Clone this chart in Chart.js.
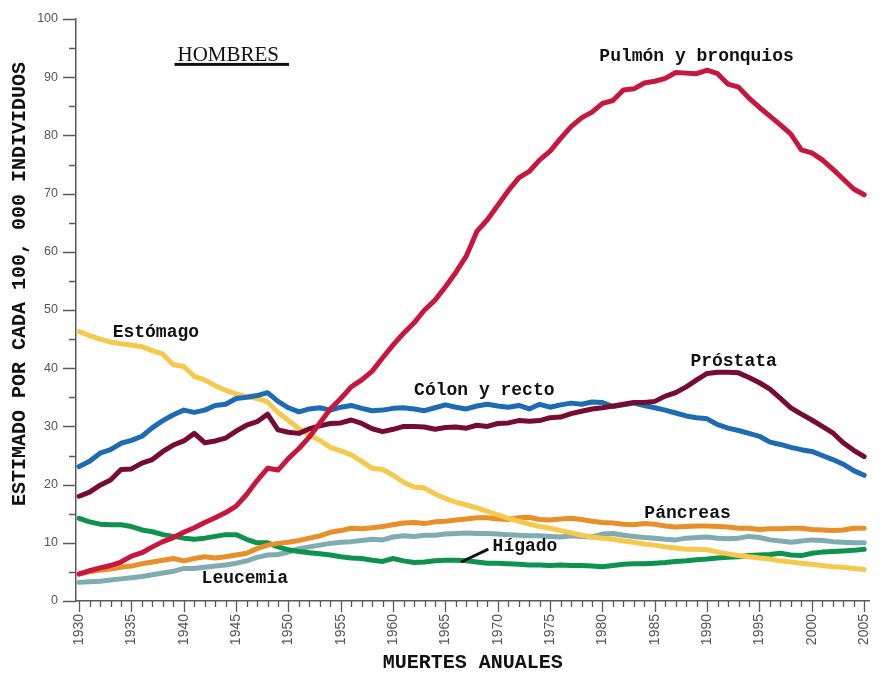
<!DOCTYPE html>
<html>
<head>
<meta charset="utf-8">
<script src="https://cdn.jsdelivr.net/npm/chart.js@4.4.1/dist/chart.umd.min.js"></script>
<style>
  html, body { margin: 0; padding: 0; background: #fff; }
  #chart { display: block; }
</style>
</head>
<body>
<canvas id="chart" width="883" height="677"></canvas>
<script>
// years 1930..2005, one value per year
const years = [];
for (let y = 1930; y <= 2005; y++) years.push(y);

const pulmon = [4.6, 5.2, 5.7, 6.1, 6.7, 7.7, 8.3, 9.3, 10.2, 10.9,
  11.8, 12.6, 13.5, 14.3, 15.2, 16.3, 18.3, 20.7, 22.8, 22.5,
  24.5, 26.2, 28.2, 30.6, 33.0, 34.8, 36.8, 38.0, 39.5, 41.8,
  44.0, 46.0, 47.8, 50.0, 51.7, 54.0, 56.5, 59.3, 63.5, 65.5,
  68.0, 70.5, 72.7, 73.8, 75.8, 77.3, 79.5, 81.5, 83.0, 84.0,
  85.5, 86.0, 87.8, 88.0, 89.0, 89.3, 89.8, 90.8, 90.7, 90.6,
  91.2, 90.6, 88.8, 88.3, 86.4, 84.8, 83.3, 81.8, 80.2, 77.5,
  77.0, 75.8, 74.2, 72.5, 70.8, 69.8];

const prostata = [18.0, 18.7, 19.9, 20.8, 22.6, 22.7, 23.7, 24.3, 25.7, 26.8,
  27.5, 28.8, 27.2, 27.5, 28.0, 29.2, 30.2, 30.8, 32.1, 29.4,
  29.0, 28.8, 29.6, 30.1, 30.5, 30.6, 31.1, 30.5, 29.6, 29.1,
  29.5, 30.0, 30.0, 29.9, 29.5, 29.8, 29.9, 29.7, 30.2, 30.0,
  30.5, 30.6, 31.0, 30.9, 31.0, 31.5, 31.6, 32.2, 32.6, 33.0,
  33.2, 33.5, 33.8, 34.1, 34.1, 34.3, 35.2, 35.8, 36.8, 38.0,
  39.1, 39.3, 39.3, 39.2, 38.4, 37.5, 36.4, 34.8, 33.2, 32.1,
  31.1, 30.0, 28.9, 27.2, 25.9, 24.8];

const colon = [23.1, 24.0, 25.4, 26.0, 27.1, 27.6, 28.3, 29.8, 31.0, 32.0,
  32.8, 32.4, 32.8, 33.6, 33.8, 34.8, 35.0, 35.3, 35.8, 34.3,
  33.2, 32.5, 33.0, 33.2, 32.8, 33.3, 33.6, 33.1, 32.7, 32.8,
  33.1, 33.2, 33.0, 32.7, 33.2, 33.7, 33.3, 33.0, 33.5, 33.8,
  33.5, 33.3, 33.6, 33.0, 33.8, 33.3, 33.7, 34.0, 33.8, 34.2,
  34.1, 33.4, 33.7, 34.0, 33.6, 33.2, 32.8, 32.3, 31.8, 31.5,
  31.3, 30.3, 29.7, 29.3, 28.8, 28.3, 27.3, 26.9, 26.4, 26.0,
  25.7, 25.0, 24.3, 23.5, 22.4, 21.6];

const estomago = [46.3, 45.6, 45.0, 44.5, 44.2, 44.0, 43.7, 43.0, 42.4, 40.6,
  40.3, 38.6, 38.0, 37.0, 36.2, 35.6, 35.1, 34.8, 34.2, 32.4,
  31.0, 29.6, 28.5, 27.6, 26.4, 25.8, 25.1, 24.0, 22.8, 22.6,
  21.6, 20.4, 19.6, 19.4, 18.4, 17.6, 17.0, 16.5, 16.0, 15.4,
  14.8, 14.2, 13.7, 13.2, 12.8, 12.5, 12.1, 11.7, 11.3, 11.0,
  10.8, 10.6, 10.3, 10.1, 9.8, 9.6, 9.3, 9.1, 8.9, 8.9,
  8.8, 8.4, 8.1, 7.8, 7.6, 7.4, 7.2, 6.9, 6.7, 6.5,
  6.3, 6.1, 5.9, 5.8, 5.6, 5.4];

const pancreas = [4.7, 5.0, 5.3, 5.5, 5.8, 6.0, 6.4, 6.7, 7.0, 7.3,
  6.9, 7.3, 7.6, 7.4, 7.6, 7.9, 8.2, 9.0, 9.6, 9.9,
  10.1, 10.4, 10.8, 11.2, 11.8, 12.1, 12.5, 12.4, 12.6, 12.8,
  13.1, 13.4, 13.5, 13.3, 13.6, 13.7, 13.9, 14.1, 14.3, 14.3,
  14.1, 14.0, 14.3, 14.4, 14.0, 13.9, 14.1, 14.2, 14.0, 13.7,
  13.5, 13.4, 13.2, 13.1, 13.3, 13.2, 12.9, 12.7, 12.8, 12.9,
  12.9, 12.8, 12.7, 12.5, 12.5, 12.3, 12.4, 12.4, 12.5, 12.5,
  12.3, 12.2, 12.1, 12.2, 12.5, 12.5];

const leucemia = [3.2, 3.3, 3.4, 3.6, 3.8, 4.0, 4.2, 4.5, 4.8, 5.1,
  5.6, 5.6, 5.8, 6.0, 6.2, 6.5, 6.9, 7.5, 7.9, 8.0,
  8.4, 9.0, 9.3, 9.6, 9.9, 10.1, 10.2, 10.4, 10.6, 10.5,
  11.0, 11.2, 11.1, 11.3, 11.3, 11.5, 11.6, 11.7, 11.6, 11.6,
  11.5, 11.4, 11.3, 11.2, 11.2, 11.1, 11.0, 11.2, 11.1, 11.0,
  11.5, 11.6, 11.3, 11.1, 10.9, 10.8, 10.6, 10.5, 10.8, 10.9,
  11.0, 10.8, 10.7, 10.8, 11.1, 10.9, 10.5, 10.3, 10.1, 10.3,
  10.5, 10.4, 10.2, 10.1, 10.0, 10.0];

const higado = [14.2, 13.6, 13.2, 13.1, 13.1, 12.8, 12.2, 11.9, 11.4, 11.1,
  10.8, 10.6, 10.8, 11.1, 11.4, 11.4, 10.6, 10.0, 10.0, 9.3,
  8.8, 8.5, 8.3, 8.1, 7.9, 7.6, 7.4, 7.3, 7.0, 6.8,
  7.3, 6.9, 6.6, 6.7, 6.9, 7.0, 7.0, 6.9, 6.7, 6.5,
  6.5, 6.4, 6.3, 6.2, 6.2, 6.1, 6.2, 6.1, 6.1, 6.0,
  5.9, 6.1, 6.3, 6.4, 6.4, 6.5, 6.6, 6.8, 6.9, 7.1,
  7.2, 7.4, 7.5, 7.6, 7.8, 7.9, 8.0, 8.2, 7.9, 7.8,
  8.2, 8.4, 8.5, 8.6, 8.7, 8.9];

const yTicks = [0, 10, 20, 30, 40, 50, 60, 70, 80, 90, 100];

// text labels next to the lines, anchored in data units [year, value]
const lineLabels = [
  { text: "Pulmón y bronquios", at: [1979.7, 93.5] },
  { text: "Estómago", at: [1933.2, 46.2] },
  { text: "Cólon y recto", at: [1962.0, 36.1] },
  { text: "Próstata", at: [1988.4, 41.1] },
  { text: "Páncreas", at: [1984.0, 15.1] },
  { text: "Hígado", at: [1969.5, 9.3] },
  { text: "Leucemia", at: [1941.7, 3.8] }
];
const higadoPointer = [[1966.5, 6.7], [1969.1, 8.9]];
const panelTitle = { text: "HOMBRES", at: [1939.4, 92.8] };

const yTitle = "ESTIMADO POR CADA 100, 000 INDIVIDUOS";
const xTitle = "MUERTES ANUALES";

function pts(arr) {
  return years.map((y, i) => ({ x: y, y: arr[i] }));
}

function series(label, arr, color) {
  return {
    label: label,
    data: pts(arr),
    borderColor: color,
    backgroundColor: color,
    borderWidth: 5,
    pointRadius: 0,
    tension: 0,
    borderJoinStyle: "round",
    borderCapStyle: "round",
    clip: false
  };
}

const AXIS = "#5a5a5a";
const MONO = "'Liberation Mono', 'Courier New', monospace";

const annotate = {
  id: "annotate",
  afterDraw(chart) {
    const c = chart.ctx;
    const xs = chart.scales.x, ys = chart.scales.y;
    const area = chart.chartArea;

    // tick marks, long ones on the labelled values
    c.save();
    c.strokeStyle = AXIS;
    c.lineWidth = 1.3;
    c.beginPath();
    years.forEach(v => {
      const px = Math.round(xs.getPixelForValue(v)) + 0.5;
      const len = v % 5 === 0 ? 11 : 6;
      c.moveTo(px, area.bottom);
      c.lineTo(px, area.bottom + len);
    });
    for (let v = 0; v <= 100; v += 5) {
      const py = Math.round(ys.getPixelForValue(v)) + 0.5;
      const len = v % 10 === 0 ? 13 : 7;
      c.moveTo(area.left, py);
      c.lineTo(area.left - len, py);
    }
    c.stroke();
    c.restore();

    // labels on the lines
    c.save();
    c.fillStyle = "#111";
    c.font = "bold 18px " + MONO;
    c.textBaseline = "middle";
    c.textAlign = "left";
    lineLabels.forEach(l => {
      c.fillText(l.text, xs.getPixelForValue(l.at[0]), ys.getPixelForValue(l.at[1]));
    });

    c.strokeStyle = "#111";
    c.lineWidth = 3;
    c.beginPath();
    c.moveTo(xs.getPixelForValue(higadoPointer[0][0]), ys.getPixelForValue(higadoPointer[0][1]));
    c.lineTo(xs.getPixelForValue(higadoPointer[1][0]), ys.getPixelForValue(higadoPointer[1][1]));
    c.stroke();

    // panel title, underlined
    const tx = xs.getPixelForValue(panelTitle.at[0]);
    const ty = ys.getPixelForValue(panelTitle.at[1]);
    c.font = "21px 'Liberation Serif', 'Times New Roman', serif";
    c.textBaseline = "alphabetic";
    c.fillText(panelTitle.text, tx, ty);
    const w = c.measureText(panelTitle.text).width;
    c.fillRect(tx - 3, ty + 2, w + 13, 3);

    // axis titles
    c.font = "bold 20px " + MONO;
    c.textAlign = "center";
    c.textBaseline = "middle";
    c.fillText(xTitle, (area.left + area.right) / 2, 663);
    c.translate(20, 284);
    c.rotate(-Math.PI / 2);
    c.fillText(yTitle, 0, 0);
    c.restore();
  }
};

new Chart(document.getElementById("chart"), {
  type: "line",
  data: {
    datasets: [
      series("Pulmón y bronquios", pulmon, "#c8173f"),
      series("Próstata", prostata, "#760c33"),
      series("Cólon y recto", colon, "#1d6cb3"),
      series("Estómago", estomago, "#f6c94c"),
      series("Páncreas", pancreas, "#e98f2a"),
      series("Hígado", higado, "#0e934e"),
      series("Leucemia", leucemia, "#7fabb1")
    ]
  },
  options: {
    responsive: false,
    animation: false,
    layout: { padding: { top: 19, right: 8, left: 0, bottom: 0 } },
    plugins: {
      legend: { display: false },
      tooltip: { enabled: false }
    },
    scales: {
      x: {
        type: "linear",
        min: 1929.7,
        max: 2005.5,
        afterBuildTicks: s => { s.ticks = years.map(v => ({ value: v })); },
        afterFit: s => { s.height = 76; },
        grid: { display: true, drawOnChartArea: false, drawTicks: true, tickLength: 11, color: "transparent" },
        border: { display: true, color: AXIS, width: 1.5 },
        ticks: {
          autoSkip: false,
          minRotation: 90,
          maxRotation: 90,
          padding: 2,
          color: "#555",
          font: { family: "'Liberation Sans', Arial, sans-serif", size: 14 },
          callback: v => (v % 5 === 0 ? String(v) : "")
        }
      },
      y: {
        min: 0,
        max: 100,
        afterBuildTicks: s => { s.ticks = yTicks.map(v => ({ value: v })); },
        afterFit: s => { s.width = 76; },
        grid: { display: true, drawOnChartArea: false, drawTicks: true, tickLength: 13, color: "transparent" },
        border: { display: true, color: AXIS, width: 1.5 },
        ticks: {
          padding: 5,
          color: "#555",
          font: { family: "'Liberation Sans', Arial, sans-serif", size: 12.5 }
        }
      }
    }
  },
  plugins: [annotate]
});
</script>
</body>
</html>
